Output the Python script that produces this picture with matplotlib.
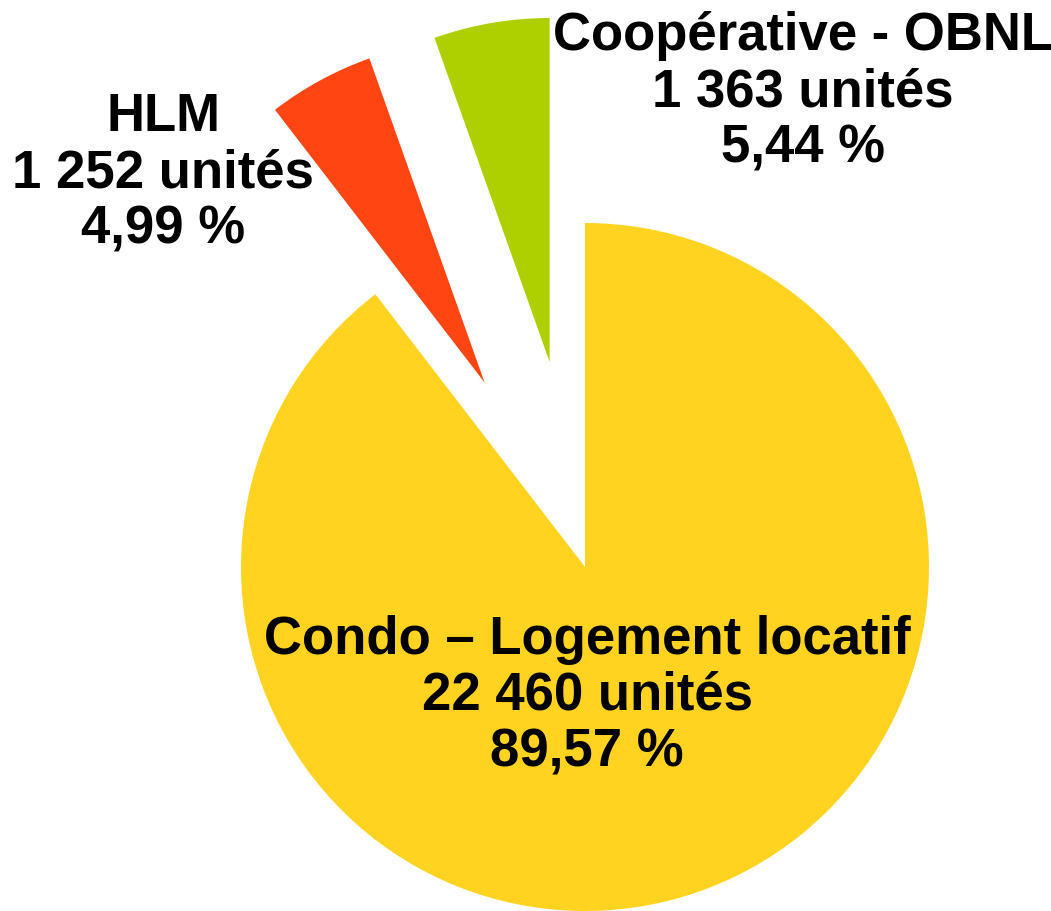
import matplotlib
matplotlib.use("Agg")
import matplotlib.pyplot as plt

# data
categories = ["Coopérative - OBNL", "HLM", "Condo – Logement locatif"]
units = [1363, 1252, 22460]
colors = ["#AFD000", "#FF4512", "#FFD320"]

total = sum(units)

W, H = 1051, 912
fig = plt.figure(figsize=(W / 100, H / 100), dpi=100)
ax = fig.add_axes([0, 0, 1, 1])

# pie in pixel-like data coords (y up); explode is in the same units
cx, cy, r = 585, H - 568, 344
ax.pie(units, colors=colors, startangle=90, counterclock=True,
       explode=[208, 210, 0], radius=r, center=(cx, cy),
       wedgeprops=dict(linewidth=0))

ax.set_xlim(0, W)
ax.set_ylim(0, H)
ax.set_aspect("equal")
ax.axis("off")


def fmt_label(name, v):
    pct = f"{v / total * 100:.2f}".replace(".", ",")
    n = f"{v:,}".replace(",", " ")
    return f"{name}\n{n} unités\n{pct} %"


# label centers (x, y from top)
label_pos = [(803, 92), (163, 173), (587, 696)]
for name, v, (lx, ly) in zip(categories, units, label_pos):
    ax.text(lx, H - ly, fmt_label(name, v), ha="center", va="center",
            multialignment="center", fontsize=38, fontweight="bold",
            family="Liberation Sans", linespacing=1.16, color="black")

fig.savefig("out.png", dpi=100)
